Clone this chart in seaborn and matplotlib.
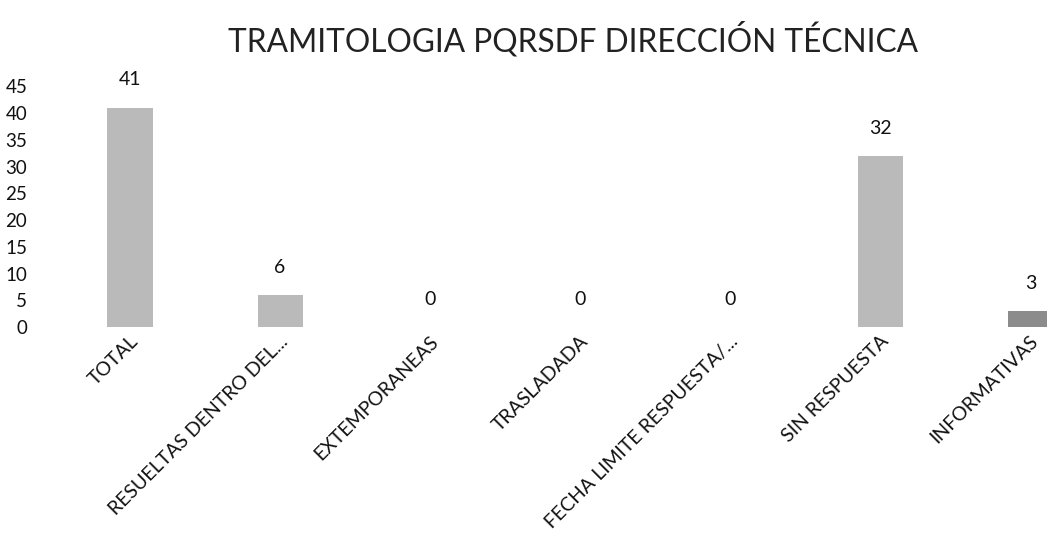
import matplotlib
matplotlib.use("Agg")
import matplotlib.pyplot as plt
import matplotlib.transforms as mtransforms
import seaborn as sns
import pandas as pd

# Datos del gráfico
categorias = ["TOTAL", "RESUELTAS DENTRO DEL...", "EXTEMPORANEAS", "TRASLADADA",
              "FECHA LIMITE RESPUESTA/...", "SIN RESPUESTA", "INFORMATIVAS"]
valores = [41, 6, 0, 0, 0, 32, 3]
colores = ["#bababa", "#bababa", "#bababa", "#bababa", "#bababa", "#bababa", "#8c8c8c"]
yticks = [0, 5, 10, 15, 20, 25, 30, 35, 40, 45]

df = pd.DataFrame({"categoria": categorias, "valor": valores})

sns.set_style("white")
plt.rcParams["font.family"] = ["Lato", "DejaVu Sans"]

fig = plt.figure(figsize=(10.47, 5.39), dpi=100)
ax = fig.add_axes([0.0525, 0.393, 0.9475, 0.447])

sns.barplot(data=df, x="categoria", y="valor", hue="categoria", palette=colores,
            legend=False, width=0.3, ax=ax, edgecolor="none")

for i, v in enumerate(valores):
    ax.text(i, v + 3.6, str(v), ha="center", va="bottom", fontsize=14, color="#111111")

ax.set_ylim(0, 45)
ax.set_xlim(-0.5, 6.11)
ax.set_yticks(yticks)
ax.tick_params(axis="y", length=0, pad=20, labelsize=13.5, labelcolor="#111111")
ax.tick_params(axis="x", length=0, pad=11, labelsize=14, labelcolor="#111111")
ax.set_xlabel("")
ax.set_ylabel("")
for s in ax.spines.values():
    s.set_visible(False)

# etiquetas giradas: el final del texto queda bajo el centro de la barra
offset = mtransforms.ScaledTranslation(0.09, 0, fig.dpi_scale_trans)
for lab in ax.get_xticklabels():
    lab.set_rotation(45)
    lab.set_ha("right")
    lab.set_va("baseline")
    lab.set_rotation_mode("anchor")
    lab.set_transform(lab.get_transform() + offset)

fig.suptitle("TRAMITOLOGIA PQRSDF DIRECCIÓN TÉCNICA", y=0.96, x=0.547,
             fontsize=22.8, color="#222222")

fig.savefig("out.png", dpi=100)
